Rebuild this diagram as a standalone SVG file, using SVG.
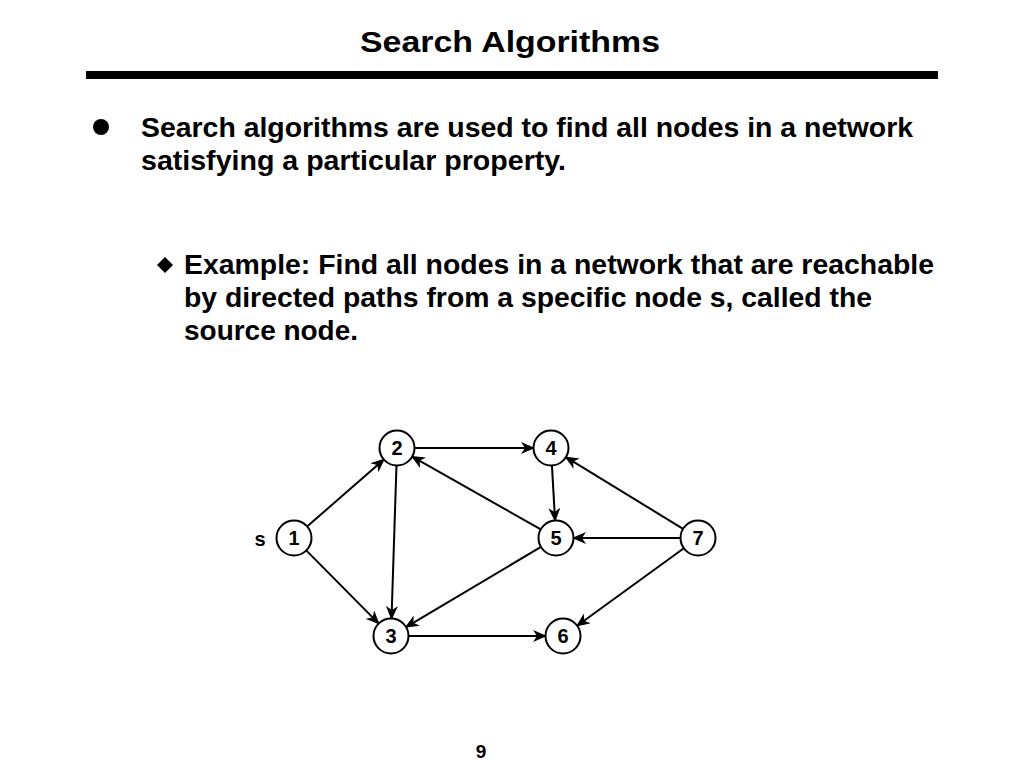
<svg xmlns="http://www.w3.org/2000/svg" width="1024" height="768" viewBox="0 0 1024 768">
<defs>
<style>
.t{font-family:"Liberation Sans",Arial,sans-serif;font-weight:bold;fill:#000}
.b{font-size:27.5px}
.e{stroke:#000;stroke-width:2;fill:none;marker-end:url(#ah)}
.n circle{fill:#fff;stroke:#000;stroke-width:2}
.n text{font-family:"Liberation Sans",Arial,sans-serif;font-weight:bold;font-size:20px;text-anchor:middle;fill:#000}
</style>
<marker id="ah" markerUnits="userSpaceOnUse" markerWidth="14" markerHeight="12" viewBox="0 0 14 12" refX="13" refY="6" orient="auto">
<path d="M0,0 L14,6 L0,12 L4,6 z" fill="#000"/>
</marker>
</defs>
<rect width="1024" height="768" fill="#fff"/>
<text class="t" x="360" y="52" font-size="29" textLength="300" lengthAdjust="spacingAndGlyphs">Search Algorithms</text>
<rect x="86" y="71" width="852" height="8" fill="#000"/>
<circle cx="101" cy="127" r="8" fill="#000"/>
<text class="t b" x="141" y="137" textLength="772" lengthAdjust="spacingAndGlyphs">Search algorithms are used to find all nodes in a network</text>
<text class="t b" x="141" y="170" textLength="425" lengthAdjust="spacingAndGlyphs">satisfying a particular property.</text>
<path d="M165,257 L173,265 L165,273 L157,265 z" fill="#000"/>
<text class="t b" x="184" y="274" textLength="750" lengthAdjust="spacingAndGlyphs">Example: Find all nodes in a network that are reachable</text>
<text class="t b" x="184" y="307" textLength="688" lengthAdjust="spacingAndGlyphs">by directed paths from a specific node s, called the</text>
<text class="t b" x="184" y="340" textLength="174" lengthAdjust="spacingAndGlyphs">source node.</text>
<text class="t" x="481" y="758" font-size="19" text-anchor="middle">9</text>
<g id="connectors">
<line class="e" x1="306.8" y1="526.8" x2="384.2" y2="459.2"/>
<line class="e" x1="306" y1="550.1" x2="379" y2="623.9"/>
<line class="e" x1="414" y1="448" x2="534" y2="448"/>
<line class="e" x1="396.5" y1="465" x2="391.5" y2="619"/>
<line class="e" x1="551.9" y1="465" x2="555.1" y2="521"/>
<line class="e" x1="541.2" y1="529.6" x2="411.8" y2="456.4"/>
<line class="e" x1="541.4" y1="546.7" x2="405.6" y2="627.3"/>
<line class="e" x1="683.5" y1="529.1" x2="565.5" y2="456.9"/>
<line class="e" x1="681" y1="538" x2="573" y2="538"/>
<line class="e" x1="684.2" y1="548" x2="576.8" y2="626"/>
<line class="e" x1="408" y1="636" x2="546" y2="636"/>
</g>
<text class="t" x="260" y="546" font-size="20" text-anchor="middle">s</text>
<g id="node1" class="n"><circle cx="294" cy="538" r="17.5"/><text x="294" y="545">1</text></g>
<g id="node2" class="n"><circle cx="397" cy="448" r="17.5"/><text x="397" y="455">2</text></g>
<g id="node3" class="n"><circle cx="391" cy="636" r="17.5"/><text x="391" y="643">3</text></g>
<g id="node4" class="n"><circle cx="551" cy="448" r="17.5"/><text x="551" y="455">4</text></g>
<g id="node5" class="n"><circle cx="556" cy="538" r="17.5"/><text x="556" y="545">5</text></g>
<g id="node6" class="n"><circle cx="563" cy="636" r="17.5"/><text x="563" y="643">6</text></g>
<g id="node7" class="n"><circle cx="698" cy="538" r="17.5"/><text x="698" y="545">7</text></g>
</svg>
